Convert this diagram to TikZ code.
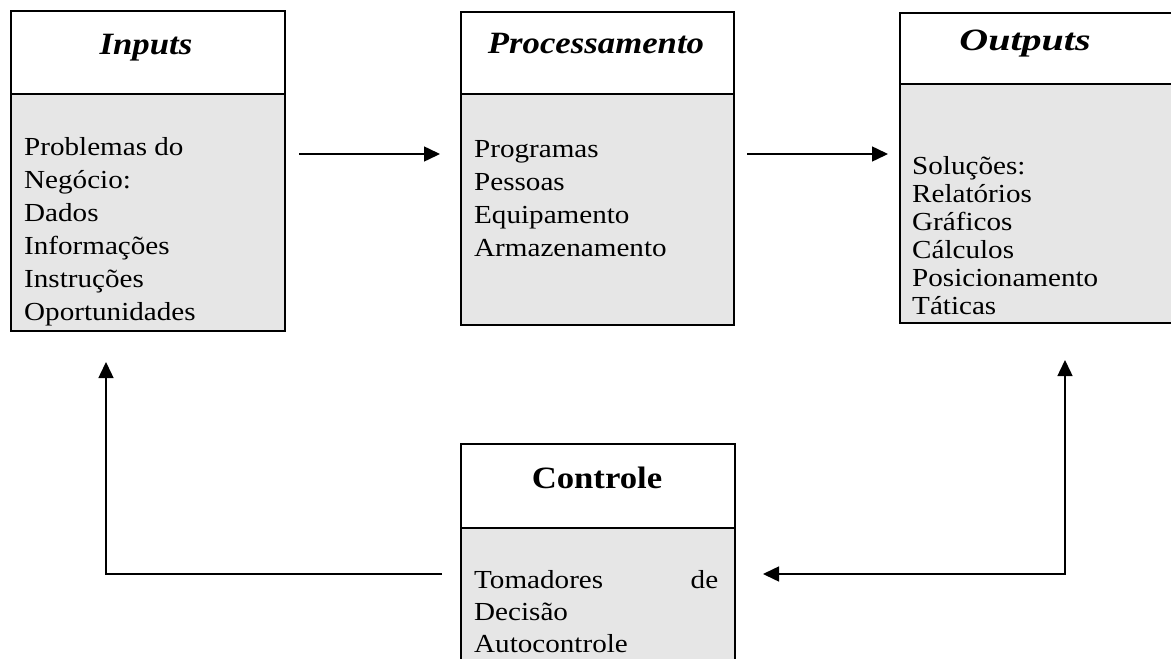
\documentclass[tikz,border=0pt]{standalone}
\usepackage{fontspec}
\setmainfont{Liberation Serif}[FakeStretch=1.12]
\usetikzlibrary{arrows.meta}
\definecolor{bodygray}{HTML}{E6E6E6}
\newcommand{\ttlfont}{\fontsize{31}{33}\selectfont\bfseries\itshape}
\newcommand{\ctlfont}{\fontsize{31}{33}\selectfont\bfseries}
\newcommand{\txtfont}{\fontsize{26}{33}\selectfont}
\newcommand{\txtfontb}{\fontsize{26}{28}\selectfont}
\tikzset{
  hdr/.style={draw, line width=2pt, fill=white, anchor=north west, inner sep=0pt},
  bdy/.style={draw, line width=2pt, fill=bodygray, anchor=north west, inner sep=0pt},
  ttl/.style={anchor=base, inner sep=0pt, font=\ttlfont},
  txt/.style={anchor=base west, inner sep=0pt},
  arr/.style={line width=1.5pt, -{Triangle[length=16pt,width=15pt]}},
  arrb/.style={line width=1.5pt, {Triangle[length=16pt,width=15pt]}-{Triangle[length=16pt,width=15pt]}},
}
\begin{document}
\begin{tikzpicture}[x=1pt, y=-1pt]
\useasboundingbox (0,0) rectangle (1171,659);
% Inputs
\node[hdr, minimum width=274pt, minimum height=83pt] (inH) at (10,10) {};
\node[bdy, minimum width=274pt, minimum height=237pt] (inB) at (10,93) {};
\node[ttl] (inT) at (146,54) {Inputs};
\node[txt] (inX) at (24,155) {\txtfont\begin{tabular}[t]{@{}l@{}}Problemas do\\Negócio:\\Dados\\Informações\\Instruções\\Oportunidades\end{tabular}};
% Processamento
\node[hdr, minimum width=273pt, minimum height=82pt] (prH) at (460,11) {};
\node[bdy, minimum width=273pt, minimum height=231pt] (prB) at (460,93) {};
\node[ttl] (prT) at (596,53) {Processamento};
\node[txt] (prX) at (474,157) {\txtfont\begin{tabular}[t]{@{}l@{}}Programas\\Pessoas\\Equipamento\\Armazenamento\end{tabular}};
% Outputs
\node[hdr, minimum width=274pt, minimum height=71pt] (ouH) at (899,12) {};
\node[bdy, minimum width=274pt, minimum height=239pt] (ouB) at (899,83) {};
\node[ttl] (ouT) at (1025,50) {\addfontfeature{FakeStretch=1.29}Outputs};
\node[txt] (ouX) at (912,174) {\txtfontb\begin{tabular}[t]{@{}l@{}}Soluções:\\Relatórios\\Gráficos\\Cálculos\\Posicionamento\\Táticas\end{tabular}};
% Controle
\node[hdr, minimum width=274pt, minimum height=84pt] (ctH) at (460,443) {};
\node[bdy, minimum width=274pt, minimum height=140pt] (ctB) at (460,527) {};
\node[ttl, font=\ctlfont] (ctT) at (597,488) {Controle};
\node[txt] (ctX) at (474,588) {\fontsize{26}{32}\selectfont\begin{tabular}[t]{@{}l@{}}\makebox[244pt][l]{Tomadores\hfill de}\\Decisão\\Autocontrole\end{tabular}};
% connectors
\coordinate (ya) at (0,154);
\coordinate (lc) at (106,574);
\coordinate (rc) at (1065,574);
\draw[arr, shorten <=13pt, shorten >=20pt] (inB.east |- ya) -- (prB.west |- ya);
\draw[arr, shorten <=12pt, shorten >=11pt] (prB.east |- ya) -- (ouB.west |- ya);
\draw[arr, shorten <=18pt, shorten >=30pt] (ctB.west |- lc) -| (inB.south -| lc);
\draw[arrb, shorten <=36pt, shorten >=27pt] (ouB.south -| rc) |- (ctB.east |- rc);
\end{tikzpicture}
\end{document}
